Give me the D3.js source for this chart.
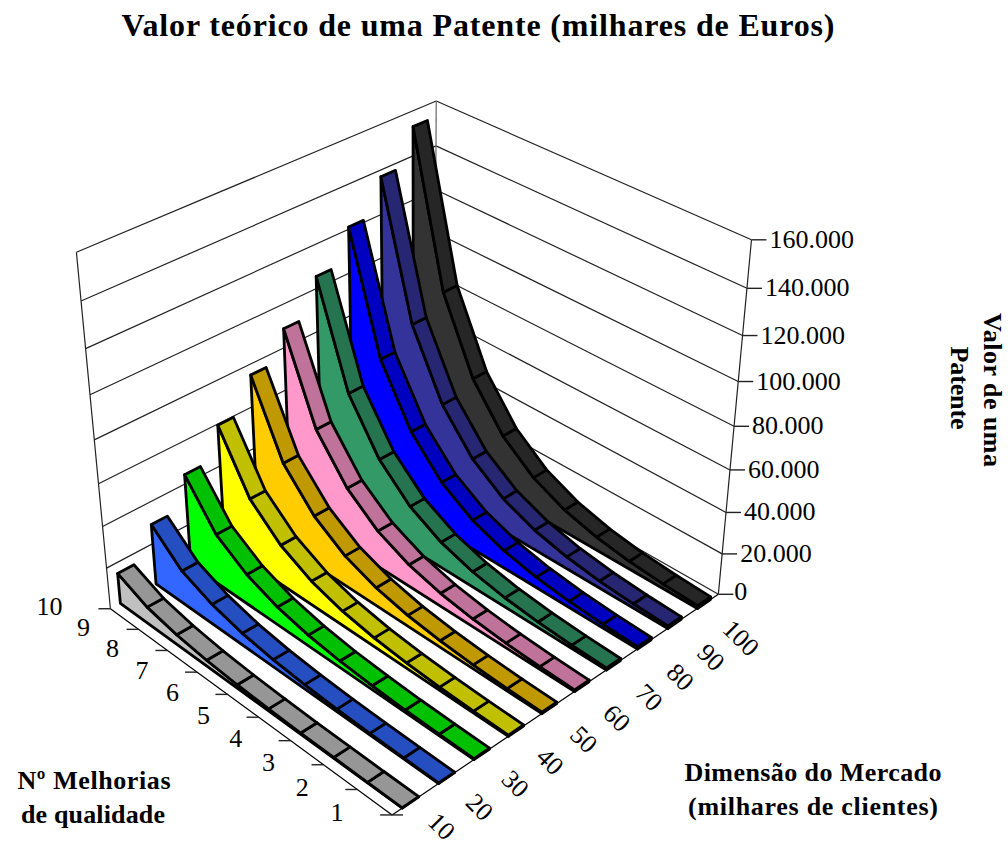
<!DOCTYPE html>
<html lang="pt">
<head>
<meta charset="utf-8">
<title>Valor teórico de uma Patente</title>
<script src="https://cdn.jsdelivr.net/npm/d3@7"></script>
<style>
  html, body { margin: 0; padding: 0; background: #fff; }
  svg { display: block; }
  text { font-family: "Liberation Serif", "Times New Roman", serif; fill: #000; }
</style>
</head>
<body>
<svg id="chart" width="1008" height="847"></svg>
<script>
// Dimensão do mercado (milhares de clientes): one ribbon per size
const dimensoes = [10, 20, 30, 40, 50, 60, 70, 80, 90, 100];
// Nº de melhorias de qualidade: points along each ribbon
const melhorias = [1, 2, 3, 4, 5, 6, 7, 8, 9, 10];
const valorTicks = [0, 20000, 40000, 60000, 80000, 100000, 120000, 140000, 160000];

// Patent value (thousands of euros) per ribbon, for 1 to 10 improvements
const mercado10  = [140, 230, 380, 640, 1070, 1780, 2960, 4940, 8230, 14800];
const mercado20  = [280, 460, 760, 1280, 2140, 3560, 5920, 9880, 16300, 29300];
const mercado30  = [420, 690, 1140, 1920, 3210, 5340, 8880, 14820, 24690, 44400];
const mercado40  = [560, 920, 1520, 2560, 4280, 7120, 11840, 19760, 33000, 59500];
const mercado50  = [700, 1150, 1900, 3200, 5350, 8900, 14800, 24900, 41500, 75000];
const mercado60  = [840, 1380, 2280, 3840, 6420, 10680, 17760, 29640, 49380, 88800];
const mercado70  = [980, 1610, 2660, 4480, 7490, 12500, 20900, 35000, 58500, 105500];
const mercado80  = [1120, 1840, 3040, 5120, 8560, 14300, 24000, 40200, 67000, 121000];
const mercado90  = [1260, 2070, 3420, 5760, 9630, 16100, 27000, 45300, 76000, 137000];
const mercado100 = [1400, 2300, 3800, 6400, 10700, 17900, 30000, 50000, 84000, 153000];
const valores = [mercado10, mercado20, mercado30, mercado40, mercado50,
                 mercado60, mercado70, mercado80, mercado90, mercado100];

// Fill colours: side face, then the darker top strip
const coresFace = ["#c0c0c0", "#3366ff", "#00ff00", "#ffff00", "#ffcc00",
                   "#ff99cc", "#339966", "#0000ff", "#333399", "#333333"];
const coresTopo = ["#969696", "#254ec0", "#00c000", "#c0c000", "#c09900",
                   "#c0739a", "#267350", "#0000c0", "#262673", "#262626"];

// Where the visible corners of the plot box land on the page: [u, v, w, x, y]
const cantos = [
  [0, 0, 0, 393, 815],
  [1, 0, 0, 718, 595],
  [0, 1, 0, 110, 608],
  [1, 0, 1, 751, 239],
  [0, 1, 1, 76, 253],
  [1, 1, 1, 437, 101]
];

// Least-squares fit of a projective camera through the box corners
function ajustarCamera(pts) {
  const rows = [], rhs = [];
  for (const [u, v, w, x, y] of pts) {
    rows.push([1, u, v, w, 0, 0, 0, 0, -x * u, -x * v, -x * w]); rhs.push(x);
    rows.push([0, 0, 0, 0, 1, u, v, w, -y * u, -y * v, -y * w]); rhs.push(y);
  }
  const n = 11;
  const A = d3.range(n).map(i => d3.range(n + 1).map(j =>
    d3.sum(rows, (r, k) => r[i] * (j < n ? r[j] : rhs[k]))));
  for (let c = 0; c < n; c++) {
    let p = c;
    for (let r = c + 1; r < n; r++) if (Math.abs(A[r][c]) > Math.abs(A[p][c])) p = r;
    [A[c], A[p]] = [A[p], A[c]];
    for (let r = 0; r < n; r++) {
      if (r === c) continue;
      const f = A[r][c] / A[c][c];
      for (let j = c; j <= n; j++) A[r][j] -= f * A[c][j];
    }
  }
  return A.map((r, i) => r[n] / r[i]);
}
const cam = ajustarCamera(cantos);
function projetar(u, v, w) {
  const d = 1 + cam[8] * u + cam[9] * v + cam[10] * w;
  return [(cam[0] + cam[1] * u + cam[2] * v + cam[3] * w) / d,
          (cam[4] + cam[5] * u + cam[6] * v + cam[7] * w) / d];
}

const escalaSerie = d3.scaleBand().domain(dimensoes).range([0, 1]).paddingInner(0.55).paddingOuter(0.275);
const escalaMelhoria = d3.scaleLinear().domain([1, 10]).range([0, 1]);
const escalaValor = d3.scaleLinear().domain([0, 160000]).range([0, 1]);

const fmt = d3.formatLocale({ decimal: ",", thousands: ".", grouping: [3], currency: ["", "€"] }).format(",d");
const svg = d3.select("#chart");
const caminho = pts => "M" + pts.map(p => p.join(",")).join("L") + "Z";
const segmento = (g, a, b, w, cor) => g.append("line")
  .attr("x1", a[0]).attr("y1", a[1]).attr("x2", b[0]).attr("y2", b[1])
  .attr("stroke", cor || "#000").attr("stroke-width", w);

// Walls and gridlines
const paredes = svg.append("g").attr("class", "paredes");
for (const t of valorTicks) {
  const w = escalaValor(t);
  if (t > 0) segmento(paredes, projetar(0, 1, w), projetar(1, 1, w), 1.2, "#222");
  segmento(paredes, projetar(1, 0, w), projetar(1, 1, w), 1.2, "#222");
}
segmento(paredes, projetar(0, 1, 0), projetar(0, 1, 1), 1.2, "#222");
segmento(paredes, projetar(1, 1, 0), projetar(1, 1, 1), 1.2, "#666");
segmento(paredes, projetar(1, 0, 0), projetar(1, 0, 1), 1.2, "#222");

// Floor edges
segmento(paredes, projetar(0, 0, 0), projetar(0, 1, 0), 1.2, "#000");
segmento(paredes, projetar(0, 0, 0), projetar(1, 0, 0), 1.2, "#000");

// Ribbons, painted from the farthest to the nearest
const fitas = svg.append("g").attr("class", "fitas");
const ordem = d3.range(dimensoes.length).reverse();
const LINHA = 2.8;
for (const s of ordem) {
  const g = fitas.append("g");
  const uF = escalaSerie(dimensoes[s]);
  const uB = uF + escalaSerie.bandwidth();
  const linha = valores[s];
  const frente = melhorias.map((m, i) => projetar(uF, escalaMelhoria(m), escalaValor(linha[i])));
  const tras = melhorias.map((m, i) => projetar(uB, escalaMelhoria(m), escalaValor(linha[i])));
  const base = [projetar(uF, escalaMelhoria(10), 0), projetar(uF, escalaMelhoria(1), 0)];

  // side face
  g.append("path").attr("d", caminho([base[0], ...frente.slice().reverse(), base[1]]))
    .attr("fill", coresFace[s]).attr("stroke", "#000").attr("stroke-width", LINHA).attr("stroke-linejoin", "round");
  // end cap at the low end
  g.append("path").attr("d", caminho([base[1], frente[0], tras[0], projetar(uB, 0, 0)]))
    .attr("fill", coresTopo[s]).attr("stroke", "#000").attr("stroke-width", LINHA).attr("stroke-linejoin", "round");
  // top strip, one quad per step
  for (let i = 0; i < melhorias.length - 1; i++) {
    g.append("path").attr("d", caminho([frente[i], tras[i], tras[i + 1], frente[i + 1]]))
      .attr("fill", coresTopo[s]).attr("stroke", "#000").attr("stroke-width", LINHA).attr("stroke-linejoin", "round");
  }
}

// Value axis on the right wall
const eixos = svg.append("g").attr("class", "eixos");
for (const t of valorTicks) {
  const p = projetar(1, 0, escalaValor(t));
  segmento(eixos, p, [p[0] + 15, p[1]], 1.4, "#222");
  eixos.append("text").attr("x", p[0] + (t === 0 ? 16 : 18)).attr("y", p[1] + (t === 0 ? 6 : 8)).attr("font-size", 26).text(fmt(t));
}

// Improvements axis along the left floor edge
for (const m of melhorias) {
  const p = projetar(0, escalaMelhoria(m), 0);
  segmento(eixos, p, [p[0] - 12, p[1]], 1.4, "#222");
  eixos.append("text").attr("x", p[0] - (m === 10 ? 61 : 55)).attr("y", p[1] + 6.5)
    .attr("text-anchor", "middle").attr("font-size", 26).text(m);
}

// Market size axis along the right floor edge
const canto = projetar(0, 0, 0);
segmento(eixos, canto, [canto[0] + 11, canto[1]], 1.4, "#222");
const desvioX = d3.scaleLinear().domain([10, 20, 100]).range([31, 33, 37]);
const desvioY = d3.scaleLinear().domain([10, 20, 100]).range([24, 29, 34]);
for (const d of dimensoes) {
  const p = projetar(escalaSerie(d) + escalaSerie.bandwidth() / 2, 0, 0);
  eixos.append("text")
    .attr("transform", `translate(${p[0] + desvioX(d)},${p[1] + desvioY(d)}) rotate(45)`)
    .attr("text-anchor", "middle").attr("dy", "0.33em").attr("font-size", 26).text(d);
}

// Titles
const titulo = (txt, x, y, size, len, rot) => {
  const t = svg.append("text").attr("text-anchor", "middle").attr("font-weight", "bold")
    .attr("font-size", size).attr("textLength", len).attr("lengthAdjust", "spacing").text(txt);
  if (rot) t.attr("transform", `translate(${x},${y}) rotate(${rot})`);
  else t.attr("x", x).attr("y", y);
};
titulo("Valor teórico de uma Patente (milhares de Euros)", 478, 36, 32, 713);
titulo("Nº Melhorias", 94, 789, 26, 153);
titulo("de qualidade", 93, 823, 26, 144);
titulo("Dimensão do Mercado", 813, 781, 26, 257);
titulo("(milhares de clientes)", 813, 815, 26, 250);
titulo("Valor de uma", 984, 390, 26, 154, 90);
titulo("Patente", 951, 388, 26, 83, 90);
</script>
</body>
</html>
